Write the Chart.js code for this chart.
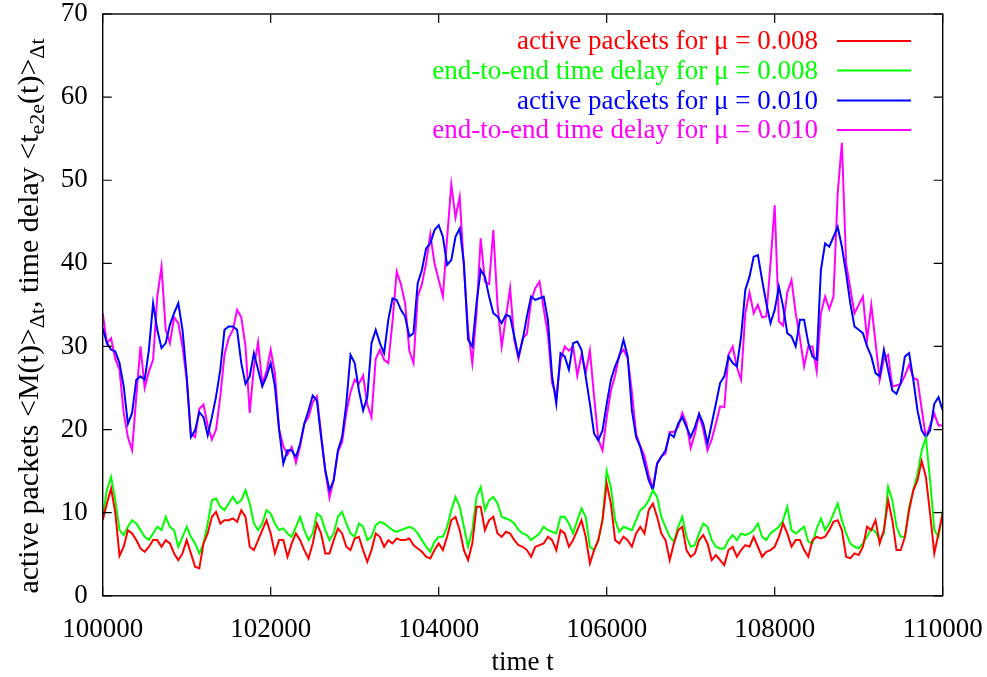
<!DOCTYPE html>
<html>
<head>
<meta charset="utf-8">
<title>active packets and end-to-end delay</title>
<script src="https://cdn.jsdelivr.net/npm/chart.js@4.4.1/dist/chart.umd.min.js"></script>
<style>
  html, body { margin: 0; padding: 0; background: #fff; }
  #plot { display: block; }
</style>
</head>
<body>
<canvas id="plot" width="987" height="677"></canvas>
<script>
// time axis: one sample every 50 steps from 100000 to 110000
const T_START = 100000;
const T_STEP = 50;

// active packets, mu = 0.008 (red)
const activeMu008 = [
  9.1, 11.1, 12.9, 10, 4.8, 5.9, 7.9, 7.5, 6.7, 5.7, 5.3, 5.9, 6.7, 6.7, 5.9, 6.7, 6.3, 5.1, 4.3, 5.1,
  6.7, 5.1, 3.5, 3.3, 6.3, 7.5, 9.5, 10.1, 8.7, 9.1, 9.1, 9.3, 8.9, 10.3, 9.5, 5.9, 5.5, 6.7, 7.9, 9.1, 7.5,
  5.1, 6.7, 6.7, 4.7, 6.3, 7.5, 6.7, 5.5, 4.5, 6.3, 8.7, 7.5, 5.1, 5.1, 6.7, 8.1, 7.5, 5.9, 5.5, 6.9,
  7.1, 5.5, 4.1, 5.5, 7.5, 7.1, 5.9, 6.7, 6.3, 6.9, 6.7, 6.7, 6.9, 6.1, 5.7, 5.3, 4.7, 4.5, 5.5, 6.3,
  5.5, 7.1, 9.1, 9.5, 7.9, 5.5, 4.3, 6.3, 10.7, 10.7, 7.9, 9.1, 9.5, 7.5, 7.1, 7.7, 7.5, 6.7, 6.1, 5.9,
  5.5, 4.7, 5.9, 6.1, 6.3, 7.1, 6.7, 5.5, 7.9, 7.5, 5.9, 6.7, 7.9, 9.1, 7.1, 3.9, 5.5, 6.7, 9.1, 13.5,
  11.1, 6.7, 6.3, 7.1, 6.7, 5.9, 7.5, 8.3, 7.5, 10.3, 11.1, 9.5, 7.5, 6.7, 4.3, 6.3, 7.9, 8.3, 5.5, 4.7,
  5.1, 6.7, 7.3, 6.3, 4.3, 4.9, 4.3, 3.7, 5.5, 5.9, 4.7, 5.5, 6.1, 5.9, 7.1, 5.9, 4.7, 5.3, 5.5, 5.9,
  7.1, 8.7, 7.5, 5.9, 6.7, 6.7, 5.5, 4.7, 6.7, 7.1, 6.9, 7.1, 7.9, 8.9, 9.1, 7.9, 4.7, 4.5, 5.1, 4.9,
  5.9, 8.3, 7.9, 9.1, 6.3, 7.9, 11.5, 9.1, 5.5, 5.5, 7.1, 10.3, 12.7, 13.9, 16.2, 14.3, 9.9, 5.1, 7.5, 9.9
];

// end-to-end time delay, mu = 0.008 (green)
const delayMu008 = [
  9.5, 12.7, 14.3, 11.5, 7.9, 7.3, 8.3, 9.1, 8.7, 7.9, 7.1, 6.7, 7.5, 8.3, 7.9, 9.5, 8.3, 7.9, 5.9, 7.1,
  8.3, 7.1, 6.3, 5.1, 6.3, 8.7, 11.5, 11.7, 10.7, 10.3, 11.1, 11.9, 11.1, 11.5, 12.7, 11.1, 8.7, 7.9, 8.7, 10.3, 9.9,
  8.7, 7.9, 8.1, 7.5, 7.1, 8.3, 9.5, 7.9, 6.7, 7.5, 9.9, 9.5, 7.9, 6.7, 7.5, 9.5, 10.1, 8.7, 7.5, 7.1,
  8.7, 8.3, 6.7, 7.1, 8.5, 8.9, 8.7, 8.3, 7.9, 7.7, 7.9, 8.1, 8.3, 8.1, 7.5, 6.7, 5.9, 5.3, 6.5, 7.1,
  7.1, 8.3, 10.3, 11.9, 10.7, 8.3, 5.9, 7.9, 11.9, 13.1, 10.3, 11.5, 11.9, 11.1, 9.5, 9.3, 9.1, 8.7, 7.9, 7.5,
  7.3, 6.7, 7.1, 7.5, 8.3, 7.9, 7.7, 7.5, 9.5, 9.5, 8.7, 7.5, 9.1, 10.5, 9.5, 5.9, 5.5, 6.7, 9.1, 15,
  13, 9.1, 7.7, 8.3, 8.1, 7.9, 9.1, 10.3, 10.7, 11.5, 12.7, 11.9, 9.5, 8.3, 7.1, 6.5, 8.3, 9.5, 7.1, 5.9,
  6.1, 7.5, 8.7, 8.3, 6.7, 5.9, 5.7, 5.7, 6.7, 7.3, 6.7, 7.5, 7.3, 7.5, 7.9, 8.7, 7.1, 6.7, 7.5, 7.9,
  8.3, 9.1, 10.7, 7.9, 7.5, 7.9, 8.3, 6.5, 6.3, 8.1, 9.3, 7.9, 8.7, 9.9, 11.1, 9.1, 7.5, 6.3, 5.9, 5.7,
  6.3, 7.1, 8.1, 7.7, 6.7, 7.5, 13.1, 11.5, 8.3, 7.1, 7.1, 10.7, 12.7, 14.7, 17.5, 19, 13.9, 7.9, 7.1, 10.3
];

// active packets, mu = 0.010 (blue)
const activeMu010 = [
  32.2, 30.4, 29.6, 29.4, 28, 25.2, 20.7, 22, 26, 26.4, 26, 29.6, 35.2, 32, 29.8, 30.4, 32.6, 34, 35.2, 32,
  26.4, 19.1, 19.9, 22.1, 21.5, 19.3, 21.5, 24, 27.2, 32, 32.4, 32.4, 32, 28, 25.5, 26.4, 29.2, 27.2, 25.2, 26.4, 28,
  25.2, 20, 15.9, 17.5, 17.5, 16.7, 18.3, 20.7, 22.3, 24.1, 23.5, 19.1, 15.1, 12.7, 13.9, 17.5, 19.1, 23.1, 29, 28,
  24.7, 22.3, 23.9, 30.4, 32, 30.4, 29.2, 33.2, 35.8, 35.6, 34.4, 33.6, 31.2, 31.6, 37.6, 39.2, 41.8, 42.4, 44, 44.6,
  43.2, 39.8, 40.4, 43.2, 44.2, 40, 30.8, 30, 35.2, 39.2, 38.4, 36, 34, 33.6, 32.8, 33.8, 33.6, 31.2, 28.8, 30.8,
  33.6, 36, 35.6, 35.8, 36, 33.2, 26.4, 23.1, 29.2, 28.8, 27.2, 30.4, 30.6, 29.6, 26.4, 23.1, 19.5, 18.7, 19.9, 23.1,
  26, 27.6, 28.8, 30.8, 28.8, 22.3, 19.1, 17.9, 15.9, 13.9, 12.7, 15.9, 16.7, 17.5, 19.5, 19.1, 20.7, 21.5, 20.3, 19.1,
  20.3, 21.9, 20.7, 18.3, 20.7, 23.1, 25.6, 26.4, 28.8, 28, 27.6, 31.2, 36.8, 38.4, 40.8, 41, 38, 35.2, 32.8, 34.4,
  37.2, 34.8, 31.6, 31.2, 30, 33.2, 33.2, 30.4, 28.8, 28.4, 39.2, 42.4, 42, 43.2, 44.4, 42, 38.8, 35.2, 32.4, 32,
  31.6, 30, 28.8, 26.8, 26.4, 29.6, 27.2, 24.7, 24.3, 25.6, 28.8, 29.2, 26, 22.3, 19.9, 19.1, 19.9, 23.1, 23.9, 22.3
];

// end-to-end time delay, mu = 0.010 (magenta)
const delayMu010 = [
  34, 30.4, 31, 28.5, 27.2, 22, 19.1, 17.5, 24, 30, 25, 27, 28.4, 36, 39.6, 32, 30.4, 33.5, 32.8, 30,
  26, 19.5, 19.1, 22.5, 23, 20.5, 18.8, 20, 24, 29, 31, 32, 34.4, 33.5, 30, 22, 27.5, 30.5, 25.5, 27, 29.6,
  26.8, 20, 18, 17, 17.9, 16, 18, 20.7, 21.5, 23.3, 24, 19.5, 15, 11.8, 14, 17.3, 18.5, 22, 24.5, 26,
  25.5, 26.5, 23, 21.5, 28.5, 29.6, 28.4, 28, 33, 39, 37.5, 35.2, 29.5, 28, 36, 37.5, 40, 43.5, 40, 38,
  36, 43, 49.5, 45.5, 48, 39.5, 32, 28, 34, 43, 37.8, 37.5, 44, 35, 30, 33.5, 37, 30.8, 28.5, 31,
  31.5, 35.5, 37, 37.8, 34.5, 31.5, 25.6, 24, 28.3, 30, 29.5, 30, 26.5, 29, 26.8, 29.5, 24, 18.8, 17.5, 21.5,
  24.7, 26.5, 29, 29.6, 28.6, 24.5, 19.5, 18, 16.8, 14.5, 12.9, 15.9, 16.8, 17.1, 19.7, 19.7, 20.3, 22, 20.7, 17.8,
  19.5, 21.8, 20, 17.5, 18.8, 20.7, 22.8, 22.7, 29, 30, 27.5, 26, 34, 36.5, 34, 35, 33.5, 33.6, 40, 47,
  33, 32.5, 36.5, 38, 34, 31, 27.6, 30, 30, 27, 34, 36, 34.5, 36, 48.5, 54.5, 40, 37, 34, 35,
  36, 30.8, 35, 30.5, 26, 28.5, 29, 25.2, 25.3, 25.5, 26.5, 27.8, 26.2, 26, 22.5, 19, 20.5, 21.9, 20.5, 20.5
];

const seriesLabels = [
  'active packets for \u03bc = 0.008',
  'end-to-end time delay for \u03bc = 0.008',
  'active packets for \u03bc = 0.010',
  'end-to-end time delay for \u03bc = 0.010'
];
const seriesColors = ['#ff0000', '#00ff00', '#0000ff', '#ff00ff'];

const xTickStep = 2000;
const yTickStep = 10;

const FONT = "'Liberation Serif', 'DejaVu Serif', serif";

function toPoints(values) {
  return values.map((v, i) => ({ x: T_START + i * T_STEP, y: v }));
}

const allSeries = [activeMu008, delayMu008, activeMu010, delayMu010];

// gnuplot-like frame with inward ticks on all four sides
const framePlugin = {
  id: 'frame',
  afterDraw(chart) {
    const { ctx, chartArea: a, scales } = chart;
    const len = 9;
    ctx.save();
    ctx.strokeStyle = '#000';
    ctx.lineWidth = 1.4;
    ctx.strokeRect(a.left, a.top, a.right - a.left, a.bottom - a.top);
    ctx.lineWidth = 1.2;
    ctx.beginPath();
    scales.x.ticks.forEach(t => {
      const px = scales.x.getPixelForValue(t.value);
      ctx.moveTo(px, a.bottom); ctx.lineTo(px, a.bottom - len);
      ctx.moveTo(px, a.top); ctx.lineTo(px, a.top + len);
    });
    scales.y.ticks.forEach(t => {
      const py = scales.y.getPixelForValue(t.value);
      ctx.moveTo(a.left, py); ctx.lineTo(a.left + len, py);
      ctx.moveTo(a.right, py); ctx.lineTo(a.right - len, py);
    });
    ctx.stroke();
    ctx.restore();
  }
};

// key in the top right corner: right aligned text, line sample after it
const keyPlugin = {
  id: 'key',
  afterDraw(chart) {
    const { ctx } = chart;
    const textRight = 818, lineFrom = 837, lineTo = 911;
    const rowY = [41, 70.5, 100.5, 130];
    ctx.save();
    ctx.font = '27px ' + FONT;
    ctx.textAlign = 'right';
    ctx.textBaseline = 'alphabetic';
    chart.data.datasets.forEach((ds, i) => {
      const y = rowY[i];
      ctx.fillStyle = ds.borderColor;
      ctx.fillText(ds.label, textRight, y + 8);
      ctx.strokeStyle = ds.borderColor;
      ctx.lineWidth = 2;
      ctx.beginPath();
      ctx.moveTo(lineFrom, y);
      ctx.lineTo(lineTo, y);
      ctx.stroke();
    });
    ctx.restore();
  }
};

// axis titles, the y title needs subscripts
const titlePlugin = {
  id: 'titles',
  afterDraw(chart) {
    const { ctx, chartArea: a } = chart;
    ctx.save();
    ctx.fillStyle = '#000';
    ctx.font = '27px ' + FONT;
    ctx.textAlign = 'center';
    ctx.textBaseline = 'alphabetic';
    ctx.fillText('time t', (a.left + a.right) / 2, 670);

    const size = 30, subSize = 22, subDrop = 6;
    const parts = [
      { t: 'active packets <M(t)>', sub: false },
      { t: '\u0394t', sub: true },
      { t: ', time delay <t', sub: false },
      { t: 'e2e', sub: true },
      { t: '(t)>', sub: false },
      { t: '\u0394t', sub: true }
    ];
    let total = 0;
    parts.forEach(p => {
      ctx.font = (p.sub ? subSize : size) + 'px ' + FONT;
      p.w = ctx.measureText(p.t).width;
      total += p.w;
    });
    ctx.translate(38, 316);
    ctx.rotate(-Math.PI / 2);
    ctx.textAlign = 'left';
    let x = -total / 2;
    parts.forEach(p => {
      ctx.font = (p.sub ? subSize : size) + 'px ' + FONT;
      ctx.fillText(p.t, x, p.sub ? subDrop : 0);
      x += p.w;
    });
    ctx.restore();
  }
};

new Chart(document.getElementById('plot'), {
  type: 'line',
  data: {
    datasets: allSeries.map((values, i) => ({
      label: seriesLabels[i],
      data: toPoints(values),
      borderColor: seriesColors[i],
      backgroundColor: seriesColors[i],
      borderWidth: 2,
      pointRadius: 0,
      tension: 0,
      fill: false
    }))
  },
  options: {
    responsive: false,
    animation: false,
    layout: { padding: { top: 14, right: 44.3, left: 0, bottom: 0 } },
    plugins: {
      legend: { display: false },
      tooltip: { enabled: false }
    },
    scales: {
      x: {
        type: 'linear',
        min: 100000,
        max: 110000,
        grid: { display: false, drawTicks: false },
        border: { display: false },
        ticks: {
          stepSize: xTickStep,
          color: '#000',
          padding: 18,
          maxRotation: 0,
          autoSkip: false,
          font: { family: FONT, size: 27 },
          callback: v => String(v)
        },
        afterFit(scale) {
          scale.height = 81.2;
          scale.paddingLeft = 0;
          scale.paddingRight = 0;
        }
      },
      y: {
        min: 0,
        max: 70,
        grid: { display: false, drawTicks: false },
        border: { display: false },
        ticks: {
          stepSize: yTickStep,
          color: '#000',
          padding: 15,
          font: { family: FONT, size: 27 }
        },
        afterFit(scale) {
          scale.width = 102.7;
          scale.paddingTop = 0;
          scale.paddingBottom = 0;
        }
      }
    }
  },
  plugins: [framePlugin, keyPlugin, titlePlugin]
});
</script>
</body>
</html>
